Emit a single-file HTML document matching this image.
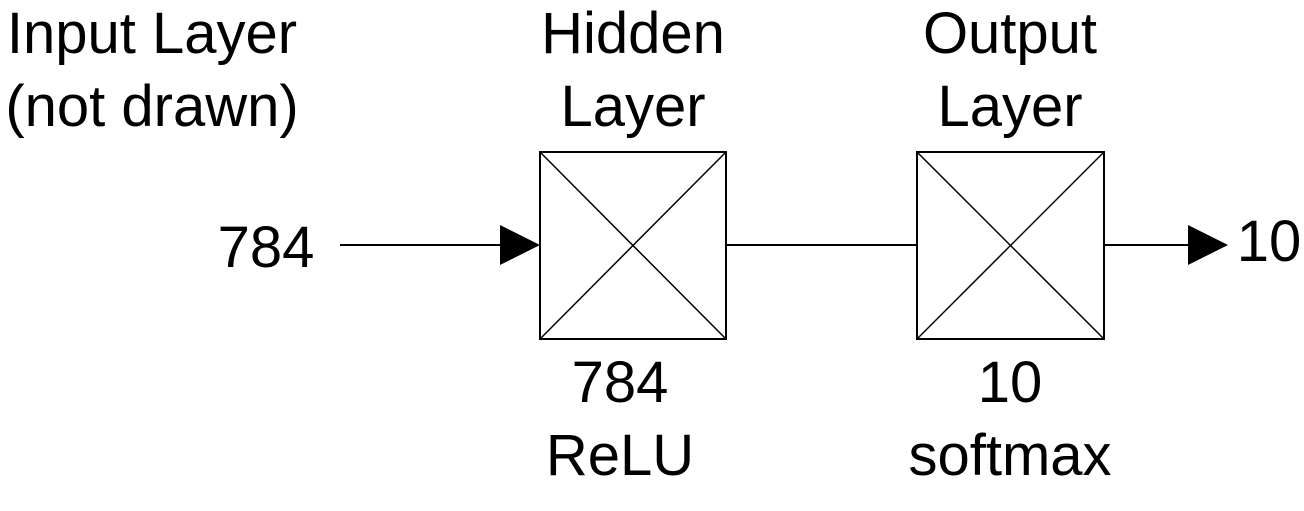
<!DOCTYPE html>
<html><head><style>html,body{margin:0;padding:0;background:#fff;}</style></head>
<body>
<svg width="1304" height="506" viewBox="0 0 1304 506" xmlns="http://www.w3.org/2000/svg" font-family="Liberation Sans, Arial, sans-serif" font-size="58" fill="#000">
<rect x="540" y="152" width="186" height="187" fill="#fff" stroke="#000" stroke-width="2"/>
<line x1="540" y1="152" x2="726" y2="339" stroke="#000" stroke-width="1.5"/>
<line x1="726" y1="152" x2="540" y2="339" stroke="#000" stroke-width="1.5"/>
<rect x="917" y="152" width="187" height="187" fill="#fff" stroke="#000" stroke-width="2"/>
<line x1="917" y1="152" x2="1104" y2="339" stroke="#000" stroke-width="1.5"/>
<line x1="1104" y1="152" x2="917" y2="339" stroke="#000" stroke-width="1.5"/>
<line x1="340" y1="245" x2="505" y2="245" stroke="#000" stroke-width="2"/>
<polygon points="500,225 540,245 500,265" fill="#000"/>
<line x1="726" y1="245" x2="917" y2="245" stroke="#000" stroke-width="2"/>
<line x1="1104" y1="245" x2="1192" y2="245" stroke="#000" stroke-width="2"/>
<polygon points="1188,225 1228,245 1188,265" fill="#000"/>
<text x="152" y="53" text-anchor="middle">Input Layer</text>
<text x="152" y="126" text-anchor="middle">(not drawn)</text>
<text x="633" y="53" text-anchor="middle">Hidden</text>
<text x="633" y="126" text-anchor="middle">Layer</text>
<text x="1010" y="53" text-anchor="middle">Output</text>
<text x="1010" y="126" text-anchor="middle">Layer</text>
<text x="266" y="267" text-anchor="middle">784</text>
<text x="1269" y="261" text-anchor="middle">10</text>
<text x="620" y="402" text-anchor="middle">784</text>
<text x="620" y="475" text-anchor="middle">ReLU</text>
<text x="1010" y="402" text-anchor="middle">10</text>
<text x="1010" y="475" text-anchor="middle">softmax</text>
</svg>
</body></html>
